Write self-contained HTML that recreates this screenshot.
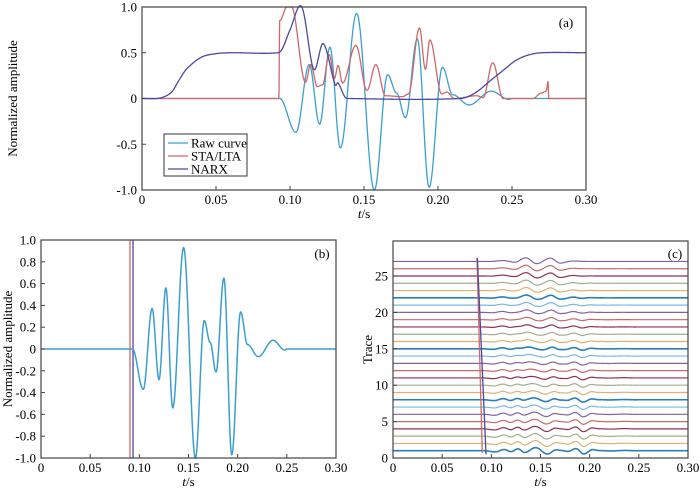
<!DOCTYPE html>
<html><head><meta charset="utf-8"><style>
body{margin:0;background:#fff}
svg{display:block;font-family:"Liberation Serif",serif;font-size:13px}
</style></head><body>
<svg id="s" width="700" height="491" xmlns="http://www.w3.org/2000/svg"></svg>
<script>
const S=document.getElementById('s');let h='';
function cosI(pts,t){for(let i=0;i<pts.length-1;i++){const a=pts[i],b=pts[i+1];if(t>=a[0]&&t<=b[0]){const u=(t-a[0])/(b[0]-a[0]||1);const w=(1-Math.cos(Math.PI*u))/2;return a[1]+(b[1]-a[1])*w;}}return 0;}
function crI(p,t){for(let i=0;i<p.length-1;i++){if(t>=p[i][0]&&t<=p[i+1][0]){const p0=p[Math.max(0,i-1)],p1=p[i],p2=p[i+1],p3=p[Math.min(p.length-1,i+2)];const u=(t-p1[0])/(p2[0]-p1[0]);const m1=(p2[1]-p0[1])/(p2[0]-p0[0])*(p2[0]-p1[0]),m2=(p3[1]-p1[1])/(p3[0]-p1[0])*(p2[0]-p1[0]);const u2=u*u,u3=u2*u;return (2*u3-3*u2+1)*p1[1]+(u3-2*u2+u)*m1+(-2*u3+3*u2)*p2[1]+(u3-u2)*m2;}}return 0;}
const raw=[[0,0],[0.093,0],[0.104,-0.37],[0.113,0.37],[0.120,-0.28],[0.127,0.56],[0.134,-0.54],[0.145,0.93],[0.157,-1.0],[0.166,0.26],[0.172,0.06],[0.178,-0.21],[0.186,0.65],[0.194,-0.97],[0.203,0.34],[0.210,0.04],[0.221,-0.07],[0.236,0.08],[0.248,-0.01],[0.25,0],[0.3,0]];
const sta=[[0,0],[0.0925,0],[0.093,0.85],[0.098,1.0],[0.101,1.0],[0.1105,0.18],[0.114,0.37],[0.1185,0.13],[0.122,0.15],[0.1265,0.48],[0.130,0.22],[0.1325,0.36],[0.1355,0.17],[0.1445,0.58],[0.152,0.09],[0.158,0.37],[0.1645,0.03],[0.176,0.02],[0.180,0.05],[0.1875,0.77],[0.1915,0.32],[0.1945,0.64],[0.2025,0.05],[0.206,0.07],[0.211,0],[0.226,0.03],[0.2305,0.01],[0.237,0.39],[0.244,0],[0.264,0],[0.270,0.06],[0.273,0.08],[0.2745,0.19],[0.2747,0],[0.3,0]];
const narx=[[0,0],[0.012,0.005],[0.02,0.07],[0.025,0.2],[0.03,0.32],[0.04,0.45],[0.05,0.49],[0.06,0.5],[0.092,0.5],[0.095,0.55],[0.100,0.75],[0.108,1.0],[0.116,0.32],[0.1225,0.6],[0.1305,0.15],[0.1325,0.17],[0.137,0.02],[0.14,0],[0.215,0],[0.225,0.06],[0.235,0.19],[0.245,0.32],[0.252,0.41],[0.26,0.47],[0.27,0.5],[0.3,0.5]];
function path(f,X,Y,c,w,t0,t1){let d='';const n=1500;for(let i=0;i<=n;i++){const t=(t0||0)+((t1||0.3)-(t0||0))*i/n;d+=(i?'L':'M')+X(t).toFixed(2)+' '+Y(f(t)).toFixed(2);}h+=`<path d="${d}" fill="none" stroke="${c}" stroke-width="${w||1.3}"/>`;}
function frame(x0,y0,x1,y1){h+=`<rect x="${x0}" y="${y0}" width="${x1-x0}" height="${y1-y0}" fill="none" stroke="#444" stroke-width="1.2"/>`;}
function xt(x0,x1,y1,ylab){for(let i=0;i<=6;i++){const x=x0+(x1-x0)*i/6;h+=`<line x1="${x}" y1="${y1}" x2="${x}" y2="${y1-4}" stroke="#444"/>`;h+=`<text x="${x}" y="${y1+14}" text-anchor="middle">${i==0?'0':(i*0.05).toFixed(2)}</text>`;}h+=`<text x="${(x0+x1)/2}" y="${ylab}" text-anchor="middle"><tspan font-style="italic">t</tspan>/s</text>`;}
const RC='#3a9fd0',SC='#d06868',NC='#4a4aa0';
// (a)
{const x0=142,x1=586,y0=7,y1=190;const X=t=>x0+t/0.3*(x1-x0),Y=v=>(y0+y1)/2-v*(y1-y0)/2;
path(t=>cosI(raw,t),X,Y,RC);path(t=>cosI(sta,t),X,Y,SC);path(t=>crI(narx,t),X,Y,NC);
frame(x0,y0,x1,y1);xt(x0,x1,y1,218);
[[1,'1.0'],[0.5,'0.5'],[0,'0'],[-0.5,'-0.5'],[-1,'-1.0']].forEach(([v,s])=>{h+=`<line x1="${x0}" y1="${Y(v)}" x2="${x0+4}" y2="${Y(v)}" stroke="#444"/><text x="${x0-5}" y="${Y(v)+4.5}" text-anchor="end">${s}</text>`;});
h+=`<text x="0" y="0" transform="translate(17,${(y0+y1)/2}) rotate(-90)" text-anchor="middle">Normalized amplitude</text>`;
h+=`<text x="566" y="27" text-anchor="middle">(a)</text>`;
h+=`<rect x="164" y="134" width="83" height="42" fill="#fff" stroke="#333"/>`;
[[RC,'Raw curve'],[SC,'STA/LTA'],[NC,'NARX']].forEach(([c,s],i)=>{const y=143+i*13;h+=`<line x1="168" y1="${y}" x2="188" y2="${y}" stroke="${c}" stroke-width="1.3"/><text x="191" y="${y+4.5}">${s}</text>`;});}
// (b)
{const x0=41,x1=336,y0=240,y1=458;const X=t=>x0+t/0.3*(x1-x0),Y=v=>(y0+y1)/2-v*(y1-y0)/2;
h+=`<line x1="${X(0.0905)}" y1="${y0}" x2="${X(0.0905)}" y2="${y1}" stroke="${SC}" stroke-width="1.3"/>`;
h+=`<line x1="${X(0.0936)}" y1="${y0}" x2="${X(0.0936)}" y2="${y1}" stroke="${NC}" stroke-width="1.3"/>`;
path(t=>cosI(raw,t),X,Y,RC,1.5);frame(x0,y0,x1,y1);xt(x0,x1,y1,486);
for(let i=-5;i<=5;i++){const v=i/5;const s=i==0?'0':v.toFixed(1);h+=`<line x1="${x0}" y1="${Y(v)}" x2="${x0+4}" y2="${Y(v)}" stroke="#444"/><text x="${x0-5}" y="${Y(v)+4.5}" text-anchor="end">${s}</text>`;}
h+=`<text x="0" y="0" transform="translate(12,${(y0+y1)/2}) rotate(-90)" text-anchor="middle">Normalized amplitude</text>`;
h+=`<text x="322" y="258" text-anchor="middle">(b)</text>`;}
// (c)
{const x0=393,x1=688,y0=241,y1=458;const X=t=>x0+t/0.3*(x1-x0),Y=v=>y1-v*7.28;
const cols=['#2a7fb8','#e0b070','#a3ad8c','#8a3050','#c46a6a','#8462a0','#78b8e0'];
const top=[[0,0],[0.1,0],[0.112,0.12],[0.124,-0.1],[0.135,0.5],[0.146,-0.3],[0.16,0.45],[0.17,-0.22],[0.182,0.05],[0.2,0],[0.3,0]];
for(let k=1;k<=27;k++){const f=(k-1)/26;const c=cols[(k-1)%7];
path(t=>{const a=cosI(raw,t+0.003*f)*0.45;const b=cosI(top,t);return k+(1-f)*a+f*b;},X,Y,c,k%7==1?1.6:1.2);}
h+=`<line x1="${X(0.0854)}" y1="${Y(27.5)}" x2="${X(0.0908)}" y2="${Y(0.7)}" stroke="${SC}" stroke-width="1.3"/>`;
h+=`<line x1="${X(0.0858)}" y1="${Y(27.5)}" x2="${X(0.0946)}" y2="${Y(0.5)}" stroke="${NC}" stroke-width="1.3"/>`;
frame(x0,y0,x1,y1);xt(x0,x1,y1,486);
for(let v=0;v<=25;v+=5){h+=`<line x1="${x0}" y1="${Y(v)}" x2="${x0+4}" y2="${Y(v)}" stroke="#444"/><text x="${x0-5}" y="${Y(v)+4.5}" text-anchor="end">${v}</text>`;}
h+=`<text x="0" y="0" transform="translate(372,${(y0+y1)/2}) rotate(-90)" text-anchor="middle">Trace</text>`;
h+=`<text x="675" y="258" text-anchor="middle">(c)</text>`;}
S.innerHTML=h;
</script>
</body></html>
